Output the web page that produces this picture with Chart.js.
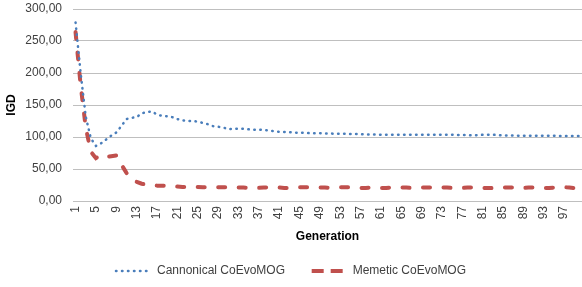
<!DOCTYPE html>
<html>
<head>
<meta charset="utf-8">
<title>IGD per generation</title>
<script src="https://cdn.jsdelivr.net/npm/chart.js"></script>
<style>
  html, body { margin: 0; padding: 0; background: #fff; }
  #wrap { width: 582px; height: 287px; }
</style>
</head>
<body>
<div id="wrap"><canvas id="chart"></canvas></div>
<script>
// generations 1..100
const generations = [
  1, 2, 3, 4, 5, 6, 7, 8, 9, 10, 11, 12, 13, 14, 15, 16, 17, 18, 19, 20,
  21, 22, 23, 24, 25, 26, 27, 28, 29, 30, 31, 32, 33, 34, 35, 36, 37, 38, 39, 40,
  41, 42, 43, 44, 45, 46, 47, 48, 49, 50, 51, 52, 53, 54, 55, 56, 57, 58, 59, 60,
  61, 62, 63, 64, 65, 66, 67, 68, 69, 70, 71, 72, 73, 74, 75, 76, 77, 78, 79, 80,
  81, 82, 83, 84, 85, 86, 87, 88, 89, 90, 91, 92, 93, 94, 95, 96, 97, 98, 99, 100
];

// IGD values
const cannonical = [
  279, 200, 132, 98, 86, 90, 96, 102, 107, 117,
  128, 130, 131, 137, 139, 140, 135, 133, 132.5, 131,
  128, 126, 125, 125, 124, 122, 120, 117, 116, 115,
  112, 113, 113, 113, 112, 111.5, 111.5, 111, 110, 109,
  108, 108, 107.5, 107, 106.5, 106.5, 106, 106, 106, 105.5,
  105.5, 105, 105, 105, 104.5, 104.5, 104.5, 104, 104, 104,
  103.5, 103.5, 103.5, 103.5, 103.5, 103.5, 103.5, 103.5, 103.5, 103.5,
  103.5, 103.5, 103.5, 103.5, 103.5, 103, 103, 103, 102.5, 103,
  103.5, 103.5, 103.5, 103, 102.5, 102.5, 102.5, 102, 102, 102,
  102, 102, 102, 102, 102, 101.5, 101.5, 101.5, 101.5, 101.5
];

const memetic = [
  264, 181, 115, 77, 67, 72, 69, 70, 71, 57,
  44, 35, 30, 27, 25.5, 24.5, 24, 24, 23.5, 23,
  22.5, 22, 22, 22, 22, 21.5, 21.5, 21.5, 21.5, 21.5,
  21.5, 21, 21, 21, 20.5, 20.5, 20.5, 21, 21.5, 21.5,
  21, 20.5, 20.5, 21, 21.5, 21.5, 21.5, 21.5, 21, 21,
  20.5, 21, 21.5, 21.5, 21.5, 21, 20.5, 20.5, 21, 21,
  20.5, 20.5, 21, 21, 21, 21, 20.5, 20.5, 21, 21,
  21, 21, 21, 21, 20.5, 20.5, 20.5, 21, 21, 20.5,
  20.5, 20.5, 20, 20.5, 21, 21, 21, 20.5, 20.5, 21,
  21, 20.5, 20.5, 20.5, 21, 21, 21.5, 21, 20, 19.5
];

const yTicks = [0, 50, 100, 150, 200, 250, 300];

const fontFamily = '"Liberation Sans", Arial, sans-serif';
const textColor = '#404040';

const ctx = document.getElementById('chart').getContext('2d');
const chart = new Chart(ctx, {
  type: 'line',
  data: {
    labels: generations,
    datasets: [{
      label: 'Cannonical CoEvoMOG',
      data: cannonical,
      borderColor: '#4a7ebb',
      backgroundColor: '#4a7ebb',
      borderWidth: 2.5,
      borderDash: [0.5, 5.5],
      borderCapStyle: 'round',
      pointRadius: 0,
      tension: 0,
      fill: false
    }, {
      label: 'Memetic CoEvoMOG',
      data: memetic,
      borderColor: '#c0504d',
      backgroundColor: '#c0504d',
      borderWidth: 4,
      borderDash: [7, 13.5],
      borderCapStyle: 'round',
      pointRadius: 0,
      tension: 0,
      fill: false
    }]
  },
  options: {
    responsive: true,
    maintainAspectRatio: false,
    animation: false,
    layout: { padding: 0 },
    plugins: {
      tooltip: { enabled: false },
      legend: {
        position: 'bottom',
        labels: {
          usePointStyle: true,
          pointStyle: 'line',
          pointStyleWidth: 35,
          boxHeight: 12,
          padding: 10,
          color: textColor,
          font: { family: fontFamily, size: 12 },
          generateLabels: (c) => {
            const items = Chart.defaults.plugins.legend.labels.generateLabels(c);
            items.forEach((it, i) => {
              const ds = c.data.datasets[it.datasetIndex];
              it.lineDash = i === 0 ? [0.5, 5.5] : [12, 7];
              it.lineCap = i === 0 ? 'round' : 'butt';
              it.lineWidth = ds.borderWidth;
              if (i === 0) it.text = it.text + '     ';
            });
            return items;
          }
        }
      }
    },
    scales: {
      x: {
        offset: true,
        afterFit: (s) => { s.height = 54; s.paddingLeft = 0; s.paddingRight = 0; },
        grid: { display: false, drawTicks: false },
        border: { display: false },
        ticks: {
          autoSkip: false,
          minRotation: 90,
          maxRotation: 90,
          padding: 5,
          color: textColor,
          font: { family: fontFamily, size: 12 },
          callback: function (value, index) {
            return index % 4 === 0 ? this.getLabelForValue(value) : '';
          }
        },
        title: {
          display: true,
          text: 'Generation',
          color: '#000',
          padding: { top: 0, bottom: 11 },
          font: { family: fontFamily, size: 12, weight: 'bold' }
        }
      },
      y: {
        min: 0,
        max: 300,
        afterFit: (s) => { s.width = 73; s.paddingTop = 9; s.paddingBottom = 0; },
        afterBuildTicks: (s) => { s.ticks = yTicks.map(v => ({ value: v })); },
        grid: { color: '#bfbfbf', lineWidth: 1, drawTicks: false },
        border: { display: false },
        ticks: {
          padding: 11,
          color: textColor,
          font: { family: fontFamily, size: 12 },
          callback: (v) => v.toFixed(2).replace('.', ',')
        },
        title: {
          display: true,
          text: 'IGD',
          color: '#000',
          padding: { top: 4, bottom: 0 },
          font: { family: fontFamily, size: 12, weight: 'bold' }
        }
      }
    }
  }
});
</script>
</body>
</html>
